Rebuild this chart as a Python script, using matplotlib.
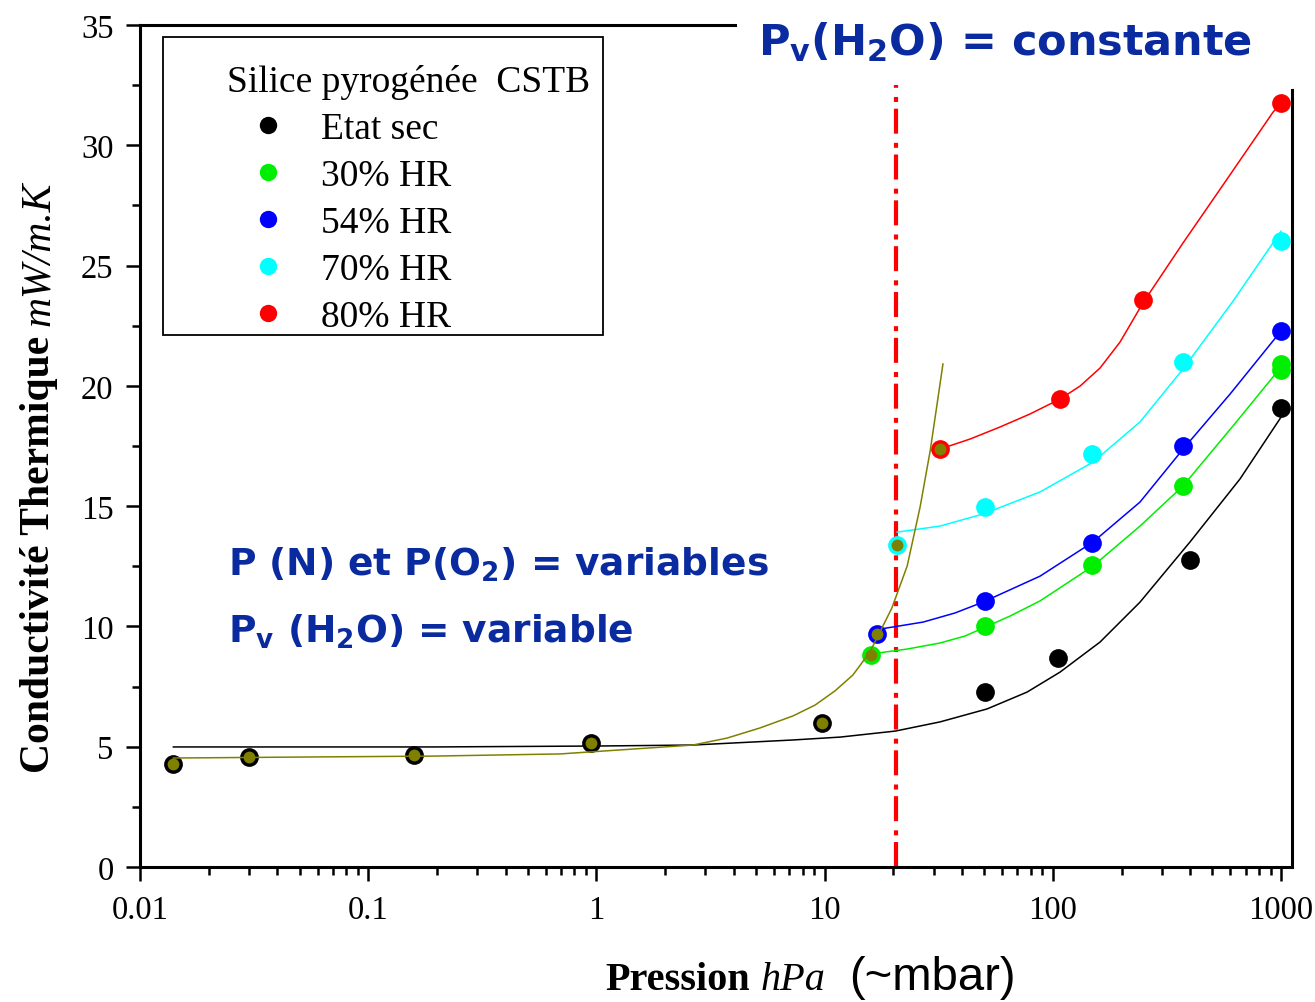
import numpy as np
import matplotlib
matplotlib.use("Agg")
import matplotlib.pyplot as plt
from matplotlib.lines import Line2D
from matplotlib.patches import Rectangle
from matplotlib.ticker import LogLocator, MultipleLocator, FuncFormatter

plt.rcParams["font.family"] = ["Liberation Serif", "DejaVu Serif"]

# measured points (pressure hPa, conductivity mW/m.K)
dry_x = [0.014, 0.030, 0.159, 0.946, 9.75, 50.5, 105, 399, 1000]
dry_y = [4.28, 4.57, 4.65, 5.15, 5.98, 7.27, 8.69, 12.76, 19.08]

hr30_x = [16.0, 50.5, 148.5, 372, 1000, 1000]
hr30_y = [8.81, 10.02, 12.55, 15.84, 20.9, 20.65]

hr54_x = [17.0, 50.5, 148.5, 372, 1000]
hr54_y = [9.68, 11.07, 13.47, 17.5, 22.28]

hr70_x = [20.8, 50.5, 148.5, 372, 1000]
hr70_y = [13.38, 14.98, 17.17, 20.99, 26.02]

hr80_x = [32.0, 107.5, 248, 1000]
hr80_y = [17.37, 19.45, 23.57, 31.75]

# points common to the "variable Pv" regime
trans_x = [0.014, 0.030, 0.159, 0.946, 9.75, 16.0, 17.0, 20.8, 32.0]
trans_y = [4.28, 4.57, 4.65, 5.15, 5.98, 8.81, 9.68, 13.38, 17.37]

# fitted curves
fit_dry_x = [0.014, 0.192, 1.04, 2.65, 7.27, 11.7, 20.4, 32.0, 51.5, 77.1, 107.5, 161, 241, 399, 661, 1000]
fit_dry_y = [4.99, 4.99, 5.03, 5.07, 5.28, 5.40, 5.65, 6.03, 6.57, 7.27, 8.10, 9.35, 11.01, 13.51, 16.13, 18.70]

fit_trans_x = [0.014, 0.0503, 0.192, 0.693, 2.65, 3.74, 5.21, 7.27, 9.08, 11.1, 13.3, 15.8,
               19.7, 23.0, 26.2, 29.0, 31.1, 33.0]
fit_trans_y = [4.53, 4.57, 4.61, 4.70, 5.07, 5.36, 5.78, 6.28, 6.73, 7.32, 7.98, 8.94,
               10.76, 12.51, 14.96, 17.29, 19.24, 20.91]

fit30_x = [15.8, 23.0, 32.0, 41.2, 49.4, 64.9, 87.9, 150, 241, 372, 642, 1000]
fit30_y = [8.85, 9.06, 9.31, 9.60, 9.93, 10.43, 11.06, 12.51, 14.17, 15.84, 18.54, 20.78]

fit54_x = [17.5, 27.0, 37.3, 49.4, 87.9, 150, 241, 372, 598, 1000]
fit54_y = [9.89, 10.18, 10.56, 11.01, 12.09, 13.51, 15.17, 17.37, 19.66, 22.28]

fit70_x = [20.8, 32.0, 49.4, 87.9, 150, 241, 372, 616, 1000]
fit70_y = [13.92, 14.17, 14.67, 15.59, 16.83, 18.50, 20.70, 23.52, 26.43]

fit80_x = [32.0, 43.4, 58.7, 79.4, 107.5, 131.6, 161, 197, 248, 372, 557, 923, 1000]
fit80_y = [17.37, 17.79, 18.29, 18.83, 19.45, 19.99, 20.74, 21.82, 23.44, 25.94, 28.35, 31.38, 31.75]

pv_limit = 20.5

labels = ["Etat sec", "30% HR", "54% HR", "70% HR", "80% HR"]
colors = ["black", "#00ee00", "#0000ff", "#00ffff", "#ff0000"]
olive = "#808000"
blue_txt = "#0a2a9f"

W, H = 1315, 1003
fig = plt.figure(figsize=(W / 100, H / 100), dpi=100)
ax = fig.add_axes([140 / W, 1 - 868 / H, (1292 - 140) / W, (868 - 26) / H])
ax.set_xscale("log")

# curves
ax.plot(fit_dry_x, fit_dry_y, color="black", lw=1.1, zorder=2)
ax.plot(fit30_x, fit30_y, color=colors[1], lw=1.1, zorder=2)
ax.plot(fit54_x, fit54_y, color=colors[2], lw=1.1, zorder=2)
ax.plot(fit70_x, fit70_y, color=colors[3], lw=1.1, zorder=2)
ax.plot(fit80_x, fit80_y, color=colors[4], lw=1.1, zorder=2)
ax.plot(fit_trans_x, fit_trans_y, color=olive, lw=1.1, zorder=4)

# points
ms = 13.5
ax.plot(dry_x, dry_y, "o", color=colors[0], ms=ms, mew=0, zorder=3)
ax.plot(hr30_x, hr30_y, "o", color=colors[1], ms=ms, mew=0, zorder=3)
ax.plot(hr54_x, hr54_y, "o", color=colors[2], ms=ms, mew=0, zorder=3)
ax.plot(hr70_x, hr70_y, "o", color=colors[3], ms=ms, mew=0, zorder=3)
ax.plot(hr80_x, hr80_y, "o", color=colors[4], ms=ms, mew=0, zorder=3)
ax.plot(trans_x, trans_y, "o", color=olive, ms=8.5, mew=0, zorder=5)

# Pv limit
ax.plot([pv_limit, pv_limit], [0, 32.5], color="red", lw=3,
        ls=(0, (6, 1.6, 1.2, 2.2)), zorder=1)

ax.set_xlim(0.01, 1117)
ax.set_ylim(0, 35)

ax.xaxis.set_major_locator(LogLocator(base=10, numticks=12))
ax.xaxis.set_minor_locator(LogLocator(base=10, subs=np.arange(2, 10), numticks=12))
ax.xaxis.set_major_formatter(FuncFormatter(lambda v, p: f"{v:g}"))
ax.yaxis.set_major_locator(MultipleLocator(5))
ax.yaxis.set_minor_locator(MultipleLocator(2.5))

ax.tick_params(which="both", direction="out", top=False, right=False,
               width=1.8, labelsize=23.5)
ax.tick_params(which="major", length=10)
ax.tick_params(which="minor", length=6)
ax.tick_params(axis="x", which="major", pad=10)
ax.tick_params(axis="y", which="major", pad=9)

for s in ax.spines.values():
    s.set_linewidth(2.2)
ax.spines["top"].set_bounds(0.01, 4.05)
ax.spines["right"].set_bounds(0, 32.3)

# legend
handles = [Line2D([], [], ls="none", marker="o", ms=12.5, mew=0, color=c) for c in colors]
leg = ax.legend(handles, labels, title="Silice pyrogénée  CSTB",
                loc="upper left", bbox_to_anchor=((227 - 140) / 1152, (868 - 65) / 842),
                borderaxespad=0, borderpad=0, frameon=False,
                fontsize=27, title_fontsize=27, alignment="left",
                handlelength=2.2, handletextpad=0.3, labelspacing=0.335)
ax.add_patch(Rectangle(((163 - 140) / 1152, (868 - 336) / 842), 440 / 1152, 298 / 842,
                       transform=ax.transAxes, fill=False, ec="black", lw=1.3, zorder=6))

# annotations
fig.text(758 / W, 1 - 55 / H, r"P$_\mathbf{v}$(H$_\mathbf{2}$O) = constante",
         color=blue_txt, fontsize=31, fontweight="bold", family="DejaVu Sans",
         ha="left", va="baseline")
fig.text(228 / W, 1 - 576 / H, r"P (N) et P(O$_\mathbf{2}$) = variables",
         color=blue_txt, fontsize=27, fontweight="bold", family="DejaVu Sans",
         ha="left", va="baseline")
fig.text(228 / W, 1 - 643 / H, r"P$_\mathbf{v}$ (H$_\mathbf{2}$O) = variable",
         color=blue_txt, fontsize=27, fontweight="bold", family="DejaVu Sans",
         ha="left", va="baseline")

# axis labels made of several styled pieces
renderer = fig.canvas.get_renderer()


def chain(pieces, x0, y0, rotation=0):
    x, y = x0, y0
    for txt, kw, gap in pieces:
        t = fig.text(x / W, 1 - y / H, txt, ha="left", va="baseline",
                     rotation=rotation, rotation_mode="anchor", **kw)
        bb = t.get_window_extent(renderer=renderer)
        if rotation == 90:
            y -= bb.height + gap
        else:
            x += bb.width + gap


chain([("Pression", dict(fontsize=29, fontweight="bold"), 11),
       ("hPa", dict(fontsize=29, style="italic"), 24),
       ("(~mbar)", dict(fontsize=34, family="Liberation Sans"), 0)],
      605, 990)

chain([("Conductivité Thermique", dict(fontsize=30, fontweight="bold"), 10),
       ("mW/m.K", dict(fontsize=30, style="italic"), 0)],
      49, 773, rotation=90)

fig.savefig("out.png", dpi=100)
